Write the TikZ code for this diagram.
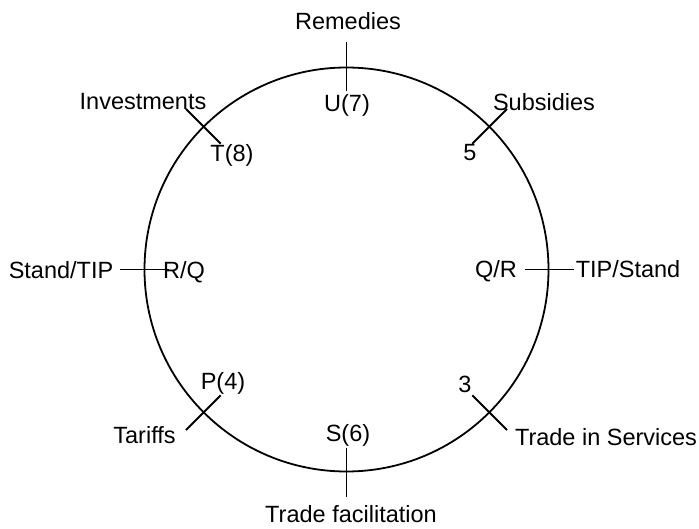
\documentclass[tikz,border=0pt]{standalone}
\usepackage{fontspec}
\setmainfont{Liberation Sans}
\usetikzlibrary{calc}
\begin{document}
\begin{tikzpicture}[x=1pt,y=-1pt,
  lbl/.style={anchor=base,inner sep=0pt,font=\fontsize{23.5}{28}\selectfont},
  ring/.style={draw,circle,line width=1.8pt,minimum size=404pt,inner sep=0pt},
  tick/.style={line width=1.8pt}]
\useasboundingbox (0,0) rectangle (699,529);
\node[ring] (C) at (346.5,269.5) {};
% ticks
\foreach \a/\n in {90/u,45/s5,0/qr,-45/t3,-90/s6,-135/p4,180/rq,135/t8}{
  \coordinate (\n in) at ($(C.center)+(\a:178pt)$);
  \coordinate (\n out) at ($(C.center)+(\a:227pt)$);
  \draw[tick] (\n in) -- (\n out);
}
% labels
\node[lbl] (remedies) at (348,30) {Remedies};
\node[lbl] (u7) at (347,112) {U(7)};
\node[lbl] (invest) at (143,110) {Investments};
\node[lbl] (t8) at (232,162) {T(8)};
\node[lbl] (subs) at (544,111) {Subsidies};
\node[lbl] (five) at (470,161) {5};
\node[lbl] (standtip) at (61,279) {Stand/TIP};
\node[lbl] (rq) at (184,279) {R/Q};
\node[lbl] (qr) at (496,278) {Q/R};
\node[lbl] (tipstand) at (628,278) {TIP/Stand};
\node[lbl] (p4) at (223,389) {P(4)};
\node[lbl] (tariffs) at (144.5,443) {Tariffs};
\node[lbl] (three) at (465,392) {3};
\node[lbl] (tis) at (606,445) {Trade in Services};
\node[lbl] (s6) at (348,441) {S(6)};
\node[lbl] (tf) at (351,522) {Trade facilitation};
\end{tikzpicture}
\end{document}
